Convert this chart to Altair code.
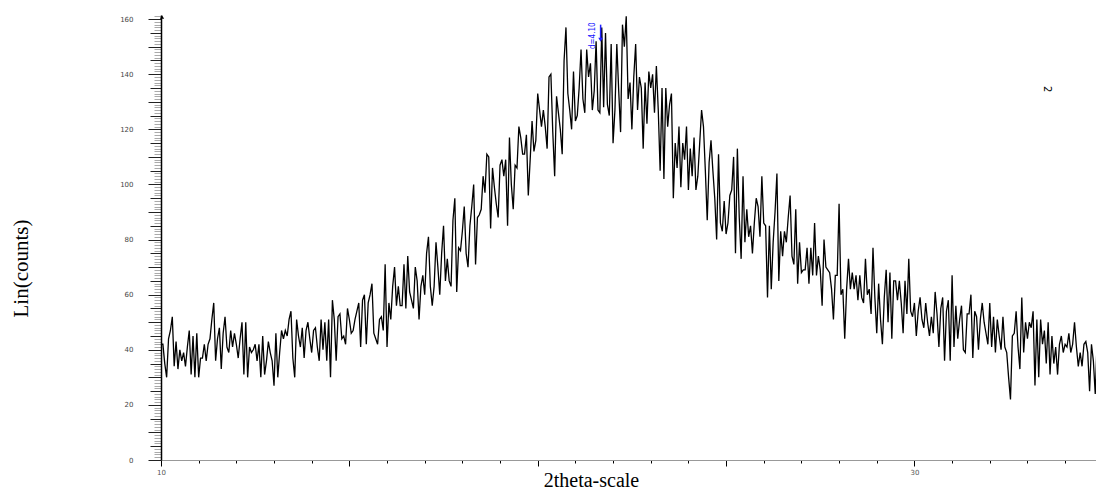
import altair as alt
import numpy as np
import pandas as pd

# ---- data ----
x_start = 10.0
x_step = 0.05

counts_10_15 = [
    42, 42, 35, 30, 44, 47, 52, 34, 43, 33, 40, 36, 39, 34, 41, 47, 31, 45, 30, 46,
    30, 37, 37, 42, 36, 42, 44, 51, 57, 36, 44, 48, 33, 46, 52, 41, 39, 47, 41, 46,
    42, 37, 44, 50, 31, 50, 30, 41, 39, 40, 42, 36, 42, 30, 45, 31, 36, 43, 39, 36,
    27, 46, 30, 39, 47, 44, 47, 45, 51, 54, 37, 30, 51, 45, 41, 48, 37, 47, 50, 44,
    39, 47, 48, 41, 36, 51, 40, 50, 36, 51, 30, 58, 51, 36, 52, 53, 44, 45, 42, 55,
]
counts_15_20 = [
    51, 46, 47, 51, 54, 57, 41, 58, 60, 42, 57, 60, 64, 46, 44, 42, 51, 52, 47, 71,
    41, 57, 51, 63, 70, 56, 63, 56, 56, 71, 55, 74, 61, 58, 55, 70, 65, 51, 63, 67,
    60, 75, 81, 63, 56, 63, 79, 70, 60, 75, 85, 65, 73, 65, 63, 87, 95, 61, 77, 76,
    83, 92, 75, 70, 85, 92, 100, 71, 88, 89, 91, 103, 97, 111, 110, 84, 106, 99, 93, 88,
    107, 109, 103, 109, 85, 117, 100, 91, 107, 106, 121, 117, 111, 111, 118, 96, 109, 123, 112, 116,
]
counts_20_25 = [
    133, 127, 121, 127, 121, 113, 139, 140, 119, 103, 132, 126, 120, 111, 145, 157, 133, 127, 120, 141,
    123, 125, 135, 149, 131, 126, 149, 139, 144, 127, 134, 152, 127, 126, 157, 128, 155, 129, 125, 151,
    115, 127, 151, 134, 119, 158, 150, 161, 131, 137, 120, 139, 151, 127, 139, 135, 113, 137, 122, 141,
    135, 140, 126, 143, 127, 105, 135, 102, 135, 121, 129, 133, 95, 115, 106, 121, 99, 115, 109, 121,
    98, 113, 103, 117, 98, 103, 115, 127, 121, 105, 87, 108, 116, 105, 95, 80, 111, 86, 83, 94,
]
counts_25_30 = [
    82, 86, 96, 98, 110, 75, 113, 88, 73, 103, 79, 91, 81, 85, 75, 86, 95, 92, 81, 103,
    86, 85, 59, 85, 62, 79, 90, 104, 65, 83, 74, 83, 79, 88, 96, 74, 71, 91, 64, 79,
    68, 69, 69, 77, 64, 77, 67, 86, 67, 74, 69, 56, 80, 70, 69, 68, 62, 51, 67, 67,
    93, 60, 62, 44, 62, 73, 62, 68, 62, 67, 58, 67, 59, 57, 73, 60, 62, 53, 77, 59,
    46, 64, 51, 42, 59, 69, 50, 68, 44, 65, 65, 58, 65, 57, 46, 65, 53, 73, 54, 52,
]
counts_30_35 = [
    57, 45, 54, 59, 51, 48, 57, 50, 45, 52, 46, 61, 53, 41, 55, 59, 36, 54, 58, 36,
    67, 41, 56, 44, 51, 56, 40, 39, 53, 53, 60, 37, 54, 52, 40, 51, 57, 50, 46, 42,
    57, 41, 52, 39, 51, 45, 40, 52, 41, 39, 30, 22, 45, 46, 54, 41, 33, 59, 39, 50,
    44, 50, 48, 54, 27, 51, 30, 51, 42, 47, 35, 50, 31, 45, 35, 41, 31, 42, 45, 39,
    42, 41, 46, 39, 42, 50, 41, 34, 39, 34, 42, 43, 39, 25, 42, 36, 24, 43,
]

y_tick_values = list(range(0, 162))
x_tick_values = list(range(10, 35))
x_domain = [10, 34.82]
y_domain = [0, 161.5]

peak_pos = [21.67]
peak_top = [158]
peak_bottom = [152.5]
peak_label_pos = [21.48]
peak_label_y = [154]
peak_label = ["d=4.10"]

sample_x = [33.53]
sample_y = [134.6]
sample_label = ["2"]

counts = counts_10_15 + counts_15_20 + counts_20_25 + counts_25_30 + counts_30_35
df = pd.DataFrame({
    "two_theta": np.round(x_start + np.arange(len(counts)) * x_step, 2),
    "counts": counts,
})

x_scale = alt.Scale(domain=x_domain, nice=False, zero=False)
y_scale = alt.Scale(domain=y_domain, nice=False)

x_axis = alt.Axis(
    values=x_tick_values,
    title="2theta-scale",
    titleFont="Liberation Serif", titleFontSize=20, titleFontWeight="normal",
    titleColor="black", titleX=430, titleY=26, titleAlign="center",
    titleBaseline="alphabetic",
    labelExpr="(datum.value == 10 || datum.value == 30) ? datum.label : ''",
    labelFont="DejaVu Sans", labelFontSize=7, labelColor="#555",
    labelPadding=2, labelOverlap=False, labelFlush=False,
    domainColor="#999", domainWidth=1,
    tickColor="black", tickWidth=1,
    tickSize={"condition": {"test": "datum.value % 5 === 0", "value": 6}, "value": 3},
    grid=False,
)

y_axis = alt.Axis(
    values=y_tick_values,
    title="Lin(counts)",
    titleFont="Liberation Serif", titleFontSize=21, titleFontWeight="normal",
    titleColor="black", titleAngle=270, titleX=-134, titleY=253,
    titleAlign="center", titleBaseline="alphabetic",
    labelExpr="datum.value % 20 === 0 ? datum.label : ''",
    labelFont="DejaVu Sans", labelFontSize=7, labelColor="#444",
    labelPadding=15, labelOverlap=False, labelFlush=False,
    domainColor="black", domainWidth=1.5,
    tickColor={"condition": {"test": "datum.value % 5 === 0", "value": "#222"}, "value": "#aaa"},
    tickWidth=1,
    tickSize={"condition": [
        {"test": "datum.value % 10 === 0", "value": 13},
        {"test": "datum.value % 5 === 0", "value": 11},
    ], "value": 7},
    grid=False,
)

line = alt.Chart(df).mark_line(color="black", strokeWidth=1.3, clip=True).encode(
    x=alt.X("two_theta:Q", scale=x_scale, axis=x_axis),
    y=alt.Y("counts:Q", scale=y_scale, axis=y_axis),
)

peak_df = pd.DataFrame({"pos": peak_pos, "top": peak_top, "bottom": peak_bottom})
peak_rule = alt.Chart(peak_df).mark_rule(color="#2020ff", strokeWidth=1.5).encode(
    x=alt.X("pos:Q", scale=x_scale, axis=x_axis),
    y=alt.Y("top:Q", scale=y_scale, axis=y_axis),
    y2="bottom:Q",
)
peak_head = alt.Chart(peak_df).mark_point(
    shape="triangle-down", filled=True, color="#2020ff", size=22, opacity=1
).encode(
    x=alt.X("pos:Q", scale=x_scale, axis=x_axis),
    y=alt.Y("bottom:Q", scale=y_scale, axis=y_axis),
)
label_df = pd.DataFrame({"pos": peak_label_pos, "y": peak_label_y, "label": peak_label})
peak_text = alt.Chart(label_df).mark_text(
    angle=270, color="#2020ff", fontSize=8, font="DejaVu Sans Condensed",
    align="center", baseline="middle",
).encode(
    x=alt.X("pos:Q", scale=x_scale, axis=x_axis),
    y=alt.Y("y:Q", scale=y_scale, axis=y_axis),
    text="label:N",
)

sample_df = pd.DataFrame({"x": sample_x, "y": sample_y, "label": sample_label})
sample_text = alt.Chart(sample_df).mark_text(
    angle=90, color="black", fontSize=10, font="DejaVu Sans",
    align="center", baseline="middle",
).encode(
    x=alt.X("x:Q", scale=x_scale, axis=x_axis),
    y=alt.Y("y:Q", scale=y_scale, axis=y_axis),
    text="label:N",
)

arrow_df = pd.DataFrame({"k": [0]})
arrow = alt.Chart(arrow_df).mark_point(
    shape="triangle-up", filled=True, color="black", size=18, opacity=1
).encode(x=alt.value(1), y=alt.value(2))

chart = alt.layer(line, peak_rule, peak_head, peak_text, sample_text, arrow).properties(
    width=935, height=445,
    padding={"left": 161, "top": 15, "right": 0, "bottom": 31},
    autosize="none",
    background="white",
).configure_view(stroke=None)

chart.save("out.html", embed_options={"renderer": "svg", "actions": False})
